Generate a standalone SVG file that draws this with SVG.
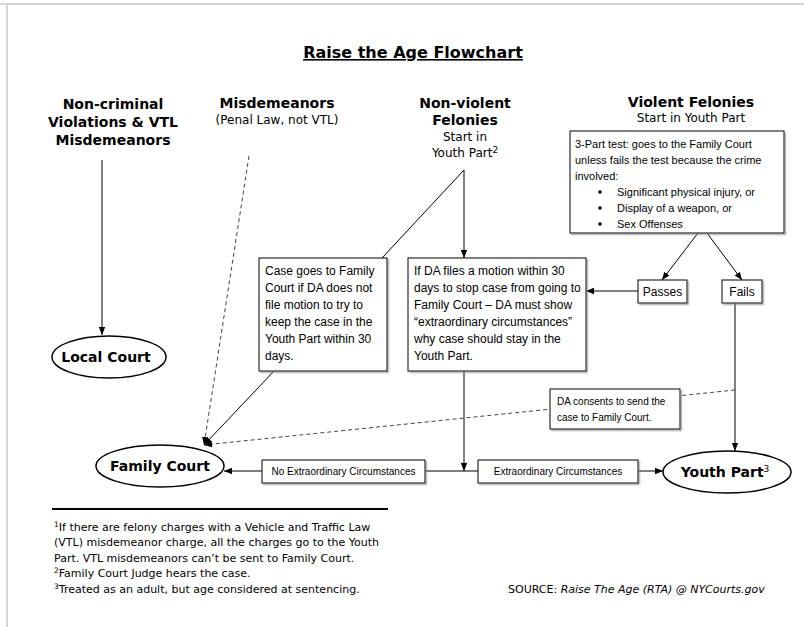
<svg xmlns="http://www.w3.org/2000/svg" width="804" height="627" viewBox="0 0 804 627">
<style>
.frame{stroke:#d4d4d4;stroke-width:2;fill:none}
.hdr{font-family:"DejaVu Sans",Verdana,sans-serif;font-weight:bold;font-size:14px;fill:#000;text-anchor:middle}
.sub{font-family:"DejaVu Sans",Verdana,sans-serif;font-size:12px;fill:#000;text-anchor:middle}
.boxs{fill:#fff;stroke:#000;stroke-width:1;filter:url(#sh)}
.bt{font-family:"Liberation Sans",Arial,sans-serif;font-size:12px;fill:#000}
.bt11{font-family:"Liberation Sans",Arial,sans-serif;font-size:11px;fill:#000}
.lbl{font-family:"Liberation Sans",Arial,sans-serif;font-size:10px;fill:#000;text-anchor:middle}
.lblL{font-family:"Liberation Sans",Arial,sans-serif;font-size:10px;fill:#000}
.ell{fill:#fff;stroke:#000;stroke-width:1.5}
.et{font-family:"DejaVu Sans",Verdana,sans-serif;font-weight:bold;font-size:14px;fill:#000;text-anchor:middle}
.ln{stroke:#000;stroke-width:1;fill:none}
.arr{stroke:#000;stroke-width:1;fill:none;marker-end:url(#ah)}
.dasha{stroke:#444;stroke-width:1;fill:none;stroke-dasharray:4 3;marker-end:url(#ah)}
.fn{font-family:"DejaVu Sans",Verdana,sans-serif;font-size:11px;fill:#000}
</style>
<defs>
<marker id="ah" viewBox="0 0 8 8" refX="8" refY="4" markerWidth="8" markerHeight="8" markerUnits="userSpaceOnUse" orient="auto">
<path d="M0,0.8 L8,4 L0,7.2 Z" fill="#000"/>
</marker>
<filter id="sh" x="-5%" y="-5%" width="115%" height="120%">
<feDropShadow dx="1.5" dy="1.5" stdDeviation="0.6" flood-color="#888" flood-opacity="0.7"/>
</filter>
</defs>
<rect width="804" height="627" fill="#fff"/>
<line class="frame" x1="0" y1="4" x2="804" y2="4"/>
<line class="frame" x1="7" y1="4" x2="7" y2="627"/>

<g id="title">
<text x="413" y="58" font-family="DejaVu Sans,Verdana,sans-serif" font-weight="bold" font-size="16" text-anchor="middle" text-decoration="underline">Raise the Age Flowchart</text>
</g>

<g id="connectors">
<line class="arr" x1="102" y1="160" x2="102" y2="335"/>
<line class="dasha" x1="249" y1="156" x2="204" y2="445"/>
<line class="ln" x1="464" y1="170" x2="382" y2="258"/>
<line class="arr" x1="464" y1="170" x2="464" y2="258"/>
<line class="arr" x1="274" y1="371" x2="204" y2="445"/>
<line class="arr" x1="698" y1="233" x2="662" y2="280"/>
<line class="arr" x1="707" y1="233" x2="742" y2="280"/>
<line class="arr" x1="638" y1="291" x2="586" y2="291"/>
<line class="arr" x1="735" y1="303" x2="735" y2="451"/>
<line class="dasha" x1="735" y1="390" x2="204" y2="445"/>
<line class="arr" x1="464" y1="371" x2="464" y2="471"/>
<line class="arr" x1="262" y1="471" x2="224" y2="471"/>
<line class="ln" x1="425" y1="471" x2="478" y2="471"/>
<line class="arr" x1="638" y1="471" x2="663" y2="471"/>
</g>

<g id="h-noncriminal">
<text class="hdr" x="113" y="109">Non-criminal</text>
<text class="hdr" x="113" y="127">Violations &amp; VTL</text>
<text class="hdr" x="113" y="145">Misdemeanors</text>
</g>
<g id="h-misdemeanors">
<text class="hdr" x="277" y="108">Misdemeanors</text>
<text class="sub" x="277" y="124">(Penal Law, not VTL)</text>
</g>
<g id="h-nonviolent">
<text class="hdr" x="465" y="108">Non-violent</text>
<text class="hdr" x="465" y="125">Felonies</text>
<text class="sub" x="465" y="141">Start in</text>
<text class="sub" x="465" y="157">Youth Part<tspan font-size="9" dy="-4">2</tspan></text>
</g>
<g id="h-violent">
<text class="hdr" x="691" y="107">Violent Felonies</text>
<text class="sub" x="691" y="122">Start in Youth Part</text>
</g>

<g id="test-box">
<rect class="boxs" x="570" y="131" width="214" height="102"/>
<text class="bt11" x="575" y="148">3-Part test: goes to the Family Court</text>
<text class="bt11" x="575" y="164">unless fails the test because the crime</text>
<text class="bt11" x="575" y="180">involved:</text>
<circle cx="600" cy="192" r="1.8" fill="#000"/>
<text class="bt11" x="617" y="196">Significant physical injury, or</text>
<circle cx="600" cy="208" r="1.8" fill="#000"/>
<text class="bt11" x="617" y="212">Display of a weapon, or</text>
<circle cx="600" cy="224" r="1.8" fill="#000"/>
<text class="bt11" x="617" y="228">Sex Offenses</text>
</g>

<g id="passes">
<rect class="boxs" x="638" y="280" width="49" height="23"/>
<text class="bt" x="662.5" y="296" text-anchor="middle">Passes</text>
</g>
<g id="fails">
<rect class="boxs" x="722" y="280" width="40" height="23"/>
<text class="bt" x="742" y="296" text-anchor="middle">Fails</text>
</g>

<g id="case-box">
<rect class="boxs" x="259" y="258" width="128" height="113"/>
<text class="bt" x="265" y="275">Case goes to Family</text>
<text class="bt" x="265" y="292">Court if DA does not</text>
<text class="bt" x="265" y="309">file motion to try to</text>
<text class="bt" x="265" y="326">keep the case in the</text>
<text class="bt" x="265" y="343">Youth Part within 30</text>
<text class="bt" x="265" y="360">days.</text>
</g>

<g id="motion-box">
<rect class="boxs" x="408" y="258" width="178" height="113"/>
<text class="bt" x="414" y="275">If DA files a motion within 30</text>
<text class="bt" x="414" y="292">days to stop case from going to</text>
<text class="bt" x="414" y="309">Family Court – DA must show</text>
<text class="bt" x="414" y="326">“extraordinary circumstances”</text>
<text class="bt" x="414" y="343">why case should stay in the</text>
<text class="bt" x="414" y="360">Youth Part.</text>
</g>

<g id="consent-box">
<rect class="boxs" x="550" y="389" width="130" height="40"/>
<text class="lblL" x="557" y="405">DA consents to send the</text>
<text class="lblL" x="557" y="421">case to Family Court.</text>
</g>

<g id="local-court">
<ellipse class="ell" cx="109" cy="357" rx="57" ry="21"/>
<text class="et" x="106" y="362">Local Court</text>
</g>
<g id="family-court">
<ellipse class="ell" cx="160" cy="466" rx="64" ry="21"/>
<text class="et" x="160" y="471">Family Court</text>
</g>
<g id="youth-part">
<ellipse class="ell" cx="727" cy="472" rx="64" ry="21"/>
<text class="et" x="725" y="477">Youth Part<tspan font-weight="normal" font-size="9" dy="-5">3</tspan></text>
</g>

<g id="no-extra">
<rect class="boxs" x="262" y="460" width="163" height="23"/>
<text class="lbl" x="343.5" y="475">No Extraordinary Circumstances</text>
</g>
<g id="extra">
<rect class="boxs" x="478" y="460" width="160" height="23"/>
<text class="lbl" x="558" y="475">Extraordinary Circumstances</text>
</g>

<g id="footer">
<line x1="52" y1="509" x2="388" y2="509" stroke="#000" stroke-width="2"/>
<text class="fn" x="54" y="531"><tspan font-size="7.5" dy="-4">1</tspan><tspan dy="4">If there are felony charges with a Vehicle and Traffic Law</tspan></text>
<text class="fn" x="54" y="546">(VTL) misdemeanor charge, all the charges go to the Youth</text>
<text class="fn" x="54" y="562">Part. VTL misdemeanors can’t be sent to Family Court.</text>
<text class="fn" x="54" y="577"><tspan font-size="7.5" dy="-4">2</tspan><tspan dy="4">Family Court Judge hears the case.</tspan></text>
<text class="fn" x="54" y="593"><tspan font-size="7.5" dy="-4">3</tspan><tspan dy="4">Treated as an adult, but age considered at sentencing.</tspan></text>
<text class="fn" x="508" y="593">SOURCE: <tspan font-style="italic">Raise The Age (RTA) @ NYCourts.gov</tspan></text>
</g>
</svg>
